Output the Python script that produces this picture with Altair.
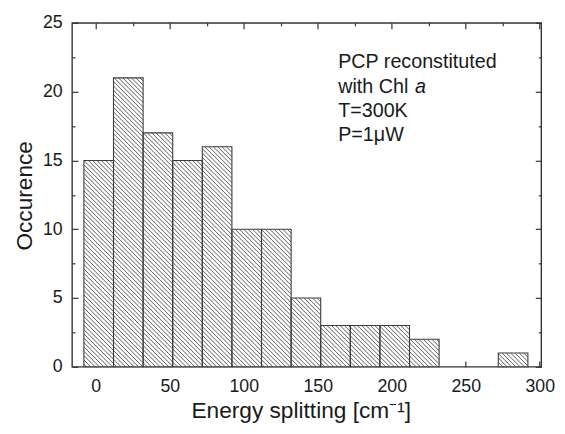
import math
import altair as alt
import pandas as pd

# ---- data ----
bin_start = [-8, 12, 32, 52, 72, 92, 112, 132, 152, 172, 192, 212, 232, 252, 272]
counts = [15, 21, 17, 15, 16, 10, 10, 5, 3, 3, 3, 2, 0, 0, 1]
bin_width = 20

x_major = [0, 50, 100, 150, 200, 250, 300]
x_minor = [25, 75, 125, 175, 225, 275]
y_major = [0, 5, 10, 15, 20, 25]
y_minor = [2.5, 7.5, 12.5, 17.5, 22.5]

note_lines = ["PCP reconstituted", "with Chl ", "T=300K", "P=1\u03bcW"]
x_title = "Energy splitting [cm\u207b\u00b9]"
y_title = "Occurence"

# ---- layout ----
W, H = 476, 349
XMIN, XMAX = -16, 301
YMAX = 25
FONT = "Liberation Sans"
INK = "#1a1a1a"

bars = pd.DataFrame({
    "lo": bin_start,
    "hi": [b + bin_width for b in bin_start],
    "count": counts,
})
bars = bars[bars["count"] > 0].reset_index(drop=True)

# hatch segments (45 degrees in screen space), derived from the bars
def sx(x):
    return (x - XMIN) / (XMAX - XMIN) * W

def sy(y):
    return H - y / YMAX * H

def ix(px):
    return px / W * (XMAX - XMIN) + XMIN

def iy(py):
    return (H - py) / H * YMAX

spacing = 4.4
segs = []
for _, r in bars.iterrows():
    L, R = sx(r["lo"]), sx(r["hi"])
    T, B = sy(r["count"]), sy(0)
    k0 = math.ceil((T - R) / spacing)
    k1 = math.floor((B - L) / spacing)
    for k in range(k0, k1 + 1):
        c = k * spacing
        a = max(L, T - c)
        b = min(R, B - c)
        if b - a > 0.4:
            segs.append({"x1": ix(a), "y1": iy(a + c), "x2": ix(b), "y2": iy(b + c)})
hatch = pd.DataFrame(segs)

xscale = alt.Scale(domain=[XMIN, XMAX], nice=False, zero=False)
yscale = alt.Scale(domain=[0, YMAX], nice=False, zero=False)

fill = alt.Chart(bars).mark_rect(fill="white").encode(
    x=alt.X("lo:Q", scale=xscale, axis=alt.Axis(
        orient="bottom", values=x_major, ticks=False, domain=False, grid=False,
        labelFontSize=18, labelFont=FONT, labelColor=INK, labelPadding=11,
        labelFlush=False,
        title=x_title, titleFontSize=23, titleFont=FONT, titleFontWeight="normal",
        titleColor=INK, titleX=232, titleY=51, titleBaseline="alphabetic",
        titleAlign="center")),
    x2="hi:Q",
    y=alt.Y("count:Q", scale=yscale, axis=alt.Axis(
        orient="left", values=y_major, ticks=False, domain=False, grid=False,
        labelFontSize=18, labelFont=FONT, labelColor=INK, labelPadding=10,
        labelFlush=False,
        title=y_title, titleFontSize=23, titleFont=FONT, titleFontWeight="normal",
        titleColor=INK, titleX=-41, titleY=175, titleBaseline="alphabetic",
        titleAlign="center", titleAngle=270)),
    y2=alt.datum(0),
)

hatch_layer = alt.Chart(hatch).mark_rule(color="#4a4a4a", strokeWidth=0.9).encode(
    x=alt.X("x1:Q", scale=xscale, axis=None),
    x2="x2:Q",
    y=alt.Y("y1:Q", scale=yscale, axis=None),
    y2="y2:Q",
)

outline = alt.Chart(bars).mark_rect(fill=None, stroke="#3c3c3c", strokeWidth=1.1).encode(
    x=alt.X("lo:Q", scale=xscale, axis=None),
    x2="hi:Q",
    y=alt.Y("count:Q", scale=yscale, axis=None),
    y2=alt.datum(0),
)


def tick_layer(xorient, yorient, xvals, yvals, size):
    common = dict(labels=False, domain=False, grid=False, title=None,
                  tickSize=size, tickColor="#333333", tickWidth=1.2)
    return alt.Chart(bars).mark_point(opacity=0).encode(
        x=alt.X("lo:Q", scale=xscale,
                axis=alt.Axis(orient=xorient, offset=-H, values=xvals, **common)),
        y=alt.Y("count:Q", scale=yscale,
                axis=alt.Axis(orient=yorient, offset=-W, values=yvals, **common)),
    )


ticks = [
    tick_layer("top", "right", x_major, y_major, 6),
    tick_layer("top", "right", x_minor, y_minor, 3),
    tick_layer("bottom", "left", x_major, y_major, 6),
    tick_layer("bottom", "left", x_minor, y_minor, 3),
]

note_x = 270
note_y0 = 46
note_step = 24.7
notes = []
for i, line in enumerate(note_lines):
    notes.append(
        alt.Chart(pd.DataFrame({"t": [line]})).mark_text(
            align="left", baseline="alphabetic", font=FONT, fontSize=20, color=INK,
            x=note_x, y=note_y0 + i * note_step
        ).encode(text="t:N")
    )
notes.append(
    alt.Chart(pd.DataFrame({"t": ["a"]})).mark_text(
        align="left", baseline="alphabetic", font=FONT, fontSize=20,
        fontStyle="italic", color=INK, x=348, y=note_y0 + note_step
    ).encode(text="t:N")
)

chart = alt.layer(
    fill, hatch_layer, outline, *ticks, *notes
).resolve_axis(
    x="independent", y="independent"
).properties(
    width=W, height=H,
    autosize=alt.AutoSizeParams(type="none"),
    padding={"left": 65, "top": 12, "right": 16, "bottom": 58},
    background="white",
).configure_view(
    stroke="#333333", strokeWidth=1.4
)

chart.save("out.html", embed_options={"renderer": "svg", "actions": False})
